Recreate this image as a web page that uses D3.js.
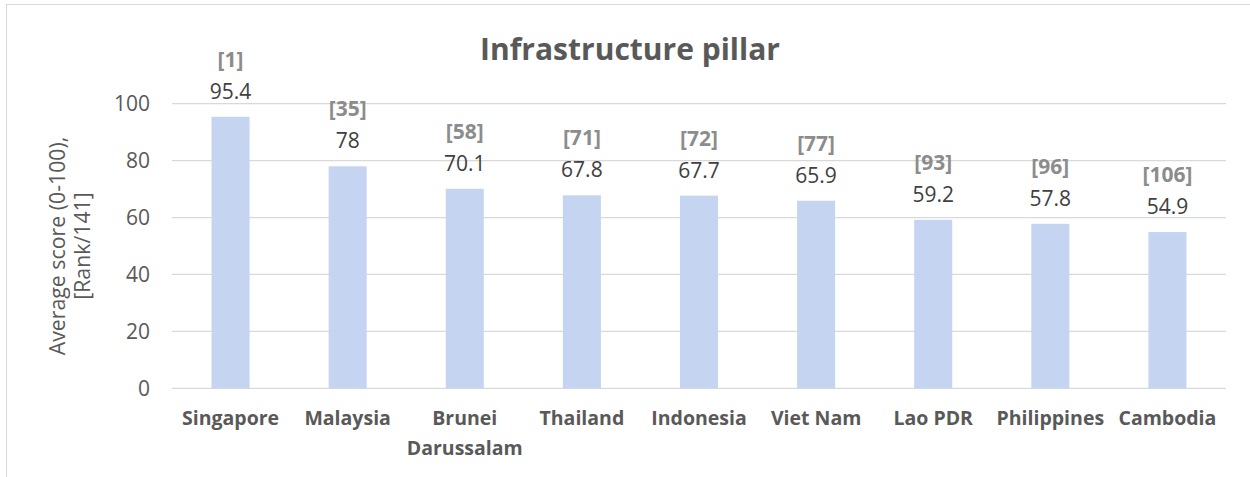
<!DOCTYPE html>
<html>
<head>
<meta charset="utf-8">
<script src="https://cdn.jsdelivr.net/npm/d3@7"></script>
<style>
html,body{margin:0;padding:0;background:#fff;}
svg{display:block;font-family:"Open Sans",sans-serif;}
</style>
</head>
<body>
<svg id="chart" width="1250" height="477"></svg>
<script>
const categories = ["Singapore","Malaysia","Brunei Darussalam","Thailand","Indonesia","Viet Nam","Lao PDR","Philippines","Cambodia"];
const scores = [95.4, 78, 70.1, 67.8, 67.7, 65.9, 59.2, 57.8, 54.9];
const scoreLabels = ["95.4","78","70.1","67.8","67.7","65.9","59.2","57.8","54.9"];
const ranks = [1, 35, 58, 71, 72, 77, 93, 96, 106];
const yTicks = [0, 20, 40, 60, 80, 100];

const svg = d3.select("#chart");
const W = 1250, H = 477;
const m = {left:172, right:24, top:103.7, bottom:88.7};

// outer frame
svg.append("rect").attr("x",6.5).attr("y",4.5).attr("width",W+20).attr("height",H+20)
  .attr("fill","none").attr("stroke","#D9D9D9").attr("stroke-width",1);

const x = d3.scaleBand().domain(categories).range([m.left, W-m.right]).paddingInner(0.675).paddingOuter(0.3375);
const y = d3.scaleLinear().domain([0,100]).range([H-m.bottom, m.top]);

// gridlines
svg.append("g").selectAll("line").data(yTicks).join("line")
  .attr("x1",m.left).attr("x2",W-m.right)
  .attr("y1",d=>y(d)).attr("y2",d=>y(d))
  .attr("stroke","#D9D9D9").attr("stroke-width",1.3);

// y axis labels
const yAxis = d3.axisLeft(y).tickValues(yTicks).tickSize(0).tickPadding(0);
const ya = svg.append("g").attr("transform",`translate(${m.left-22},0)`).call(yAxis);
ya.select(".domain").remove();
ya.selectAll("text").attr("font-size",21).attr("fill","#595959").attr("font-family","Open Sans");

// bars
svg.append("g").selectAll("rect").data(categories).join("rect")
  .attr("x",d=>x(d)).attr("width",x.bandwidth())
  .attr("y",(d,i)=>y(scores[i])).attr("height",(d,i)=>y(0)-y(scores[i]))
  .attr("fill","#C5D4F1");

// value labels
svg.append("g").selectAll("text").data(categories).join("text")
  .attr("x",d=>x(d)+x.bandwidth()/2).attr("y",(d,i)=>y(scores[i])-18)
  .attr("text-anchor","middle").attr("font-size",21).attr("fill","#404040")
  .text((d,i)=>scoreLabels[i]);

// rank labels
svg.append("g").selectAll("text").data(categories).join("text")
  .attr("x",d=>x(d)+x.bandwidth()/2).attr("y",(d,i)=>y(scores[i])-50)
  .attr("text-anchor","middle").attr("font-size",21).attr("font-weight","bold").attr("fill","#8C8C8C")
  .text((d,i)=>`[${ranks[i]}]`);

// x labels
const xl = svg.append("g").selectAll("text").data(categories).join("text")
  .attr("x",d=>x(d)+x.bandwidth()/2).attr("y",425)
  .attr("text-anchor","middle").attr("font-size",19.5).attr("font-weight","bold").attr("fill","#595959");
xl.each(function(d){
  const t = d3.select(this);
  const parts = d === "Brunei Darussalam" ? ["Brunei","Darussalam"] : [d];
  parts.forEach((p,k)=>{
    t.append("tspan").attr("x",x(d)+x.bandwidth()/2).attr("dy",k===0?0:30).text(p);
  });
});

// title
svg.append("text").attr("x",630).attr("y",60).attr("text-anchor","middle")
  .attr("font-size",30).attr("font-weight","bold").attr("fill","#595959")
  .text("Infrastructure pillar");

// y title
const cy = (y(0)+y(100))/2;
const yt = svg.append("text").attr("transform",`translate(0,${cy}) rotate(-90)`)
  .attr("text-anchor","middle").attr("font-size",21.3).attr("fill","#595959");
yt.append("tspan").attr("x",0).attr("y",65).text("Average score (0-100),");
yt.append("tspan").attr("x",0).attr("y",90).text("[Rank/141]");
</script>
</body>
</html>
